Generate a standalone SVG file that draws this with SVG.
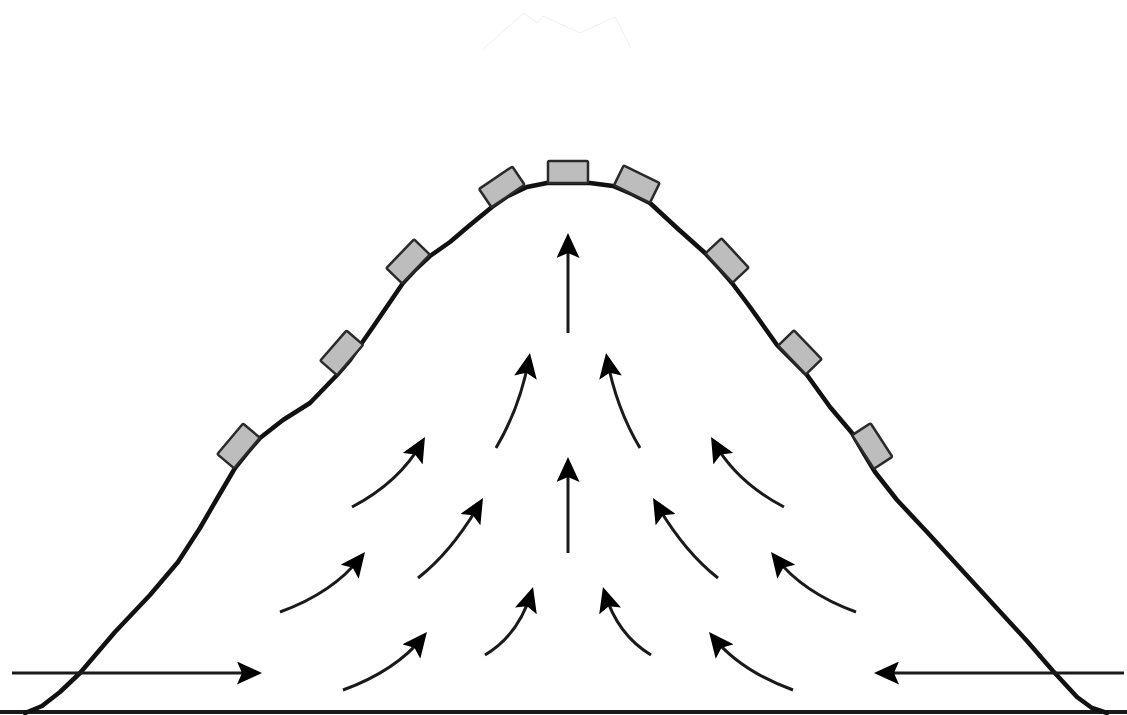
<svg xmlns="http://www.w3.org/2000/svg" width="1127" height="715" viewBox="0 0 1127 715">
  <style>
    .ground { stroke: #1a1a1a; stroke-width: 4; fill: none; }
    .outline { stroke: #111; stroke-width: 4.5; fill: none; stroke-linejoin: round; stroke-linecap: round; }
    .tile { fill: #bdbdbd; stroke: #2a2a2a; stroke-width: 2.5; }
    .flow { stroke: #1a1a1a; stroke-width: 3; fill: none; marker-end: url(#head); }
    .faint { stroke: #f0f0f0; stroke-width: 1; fill: none; }
  </style>
  <defs>
    <marker id="head" markerUnits="userSpaceOnUse" markerWidth="25" markerHeight="23" viewBox="0 0 25 23" refX="19" refY="11.5" orient="auto">
      <path d="M0,0 L25,11.5 L0,23 L5,11.5 z" fill="#000"/>
    </marker>
    <rect id="tileShape" class="tile" x="-20" y="-22" width="40" height="22" rx="1.5"/>
  </defs>

  <rect width="1127" height="715" fill="#fff"/>

  <!-- faint sketch trace above the summit -->
  <polyline class="faint" points="483,49 524,13 537,23 543,16 580,33 615,17 631,48"/>

  <!-- ground -->
  <line class="ground" x1="0" y1="712" x2="1127" y2="712"/>

  <!-- mound profile -->
  <g id="mound">
    <path class="outline" d="M25,713 L42,706 L60,692 L80,673 L115,632 L150,595 L178,562 L200,528 L218,497 L235,468 L247,453 L260,438 L283,420 L310,403 L337,375 L350,360 L373,327 L403,283 L416,269 L430,256 L450,242 L470,225 L492,207 L508,196 L527,187 L547,183 L590,183 L613,186 L632,194 L650,203 L677,228 L705,253 L719,268 L732,283 L750,307 L777,345 L792,360 L807,375 L830,407 L852,433 L863,452 L875,472 L897,500 L927,532 L960,568 L993,604 L1027,641 L1053,671 L1077,697 L1092,708 L1107,713"/>
  </g>

  <!-- tiles along the surface -->
  <g id="tile-1"><use href="#tileShape" transform="translate(247,453) rotate(-50)"/></g>
  <g id="tile-2"><use href="#tileShape" transform="translate(350,360) rotate(-49)"/></g>
  <g id="tile-3"><use href="#tileShape" transform="translate(416,269) rotate(-46)"/></g>
  <g id="tile-4"><use href="#tileShape" transform="translate(508,196) rotate(-34)"/></g>
  <g id="tile-5"><use href="#tileShape" transform="translate(568,183)"/></g>
  <g id="tile-6"><use href="#tileShape" transform="translate(632,194) rotate(26)"/></g>
  <g id="tile-7"><use href="#tileShape" transform="translate(719,268) rotate(47)"/></g>
  <g id="tile-8"><use href="#tileShape" transform="translate(792,360) rotate(46)"/></g>
  <g id="tile-9"><use href="#tileShape" transform="translate(863,452) rotate(57)"/></g>

  <!-- flow arrows -->
  <g id="connectors">
    <path class="flow" d="M568,333 L568,239"/>
    <path class="flow" d="M568,553 L568,463"/>
    <g id="flow-left">
      <path class="flow" d="M12,673 L256,673"/>
      <path class="flow" d="M496,448 Q520,407.5 528.9,358.9"/>
      <path class="flow" d="M352,507 Q399.5,482 422,442.2"/>
      <path class="flow" d="M418,578 Q451.6,552 480,503.2"/>
      <path class="flow" d="M280,612 Q333,593 361.3,556.7"/>
      <path class="flow" d="M485,655 Q518.5,635 531.3,592.8"/>
      <path class="flow" d="M343,690 Q396,670.7 423.2,636.7"/>
    </g>
    <g id="flow-right" transform="translate(1136,0) scale(-1,1)">
      <path class="flow" d="M12,673 L256,673"/>
      <path class="flow" d="M496,448 Q520,407.5 528.9,358.9"/>
      <path class="flow" d="M352,507 Q399.5,482 422,442.2"/>
      <path class="flow" d="M418,578 Q451.6,552 480,503.2"/>
      <path class="flow" d="M280,612 Q333,593 361.3,556.7"/>
      <path class="flow" d="M485,655 Q518.5,635 531.3,592.8"/>
      <path class="flow" d="M343,690 Q396,670.7 423.2,636.7"/>
    </g>
  </g>
</svg>
